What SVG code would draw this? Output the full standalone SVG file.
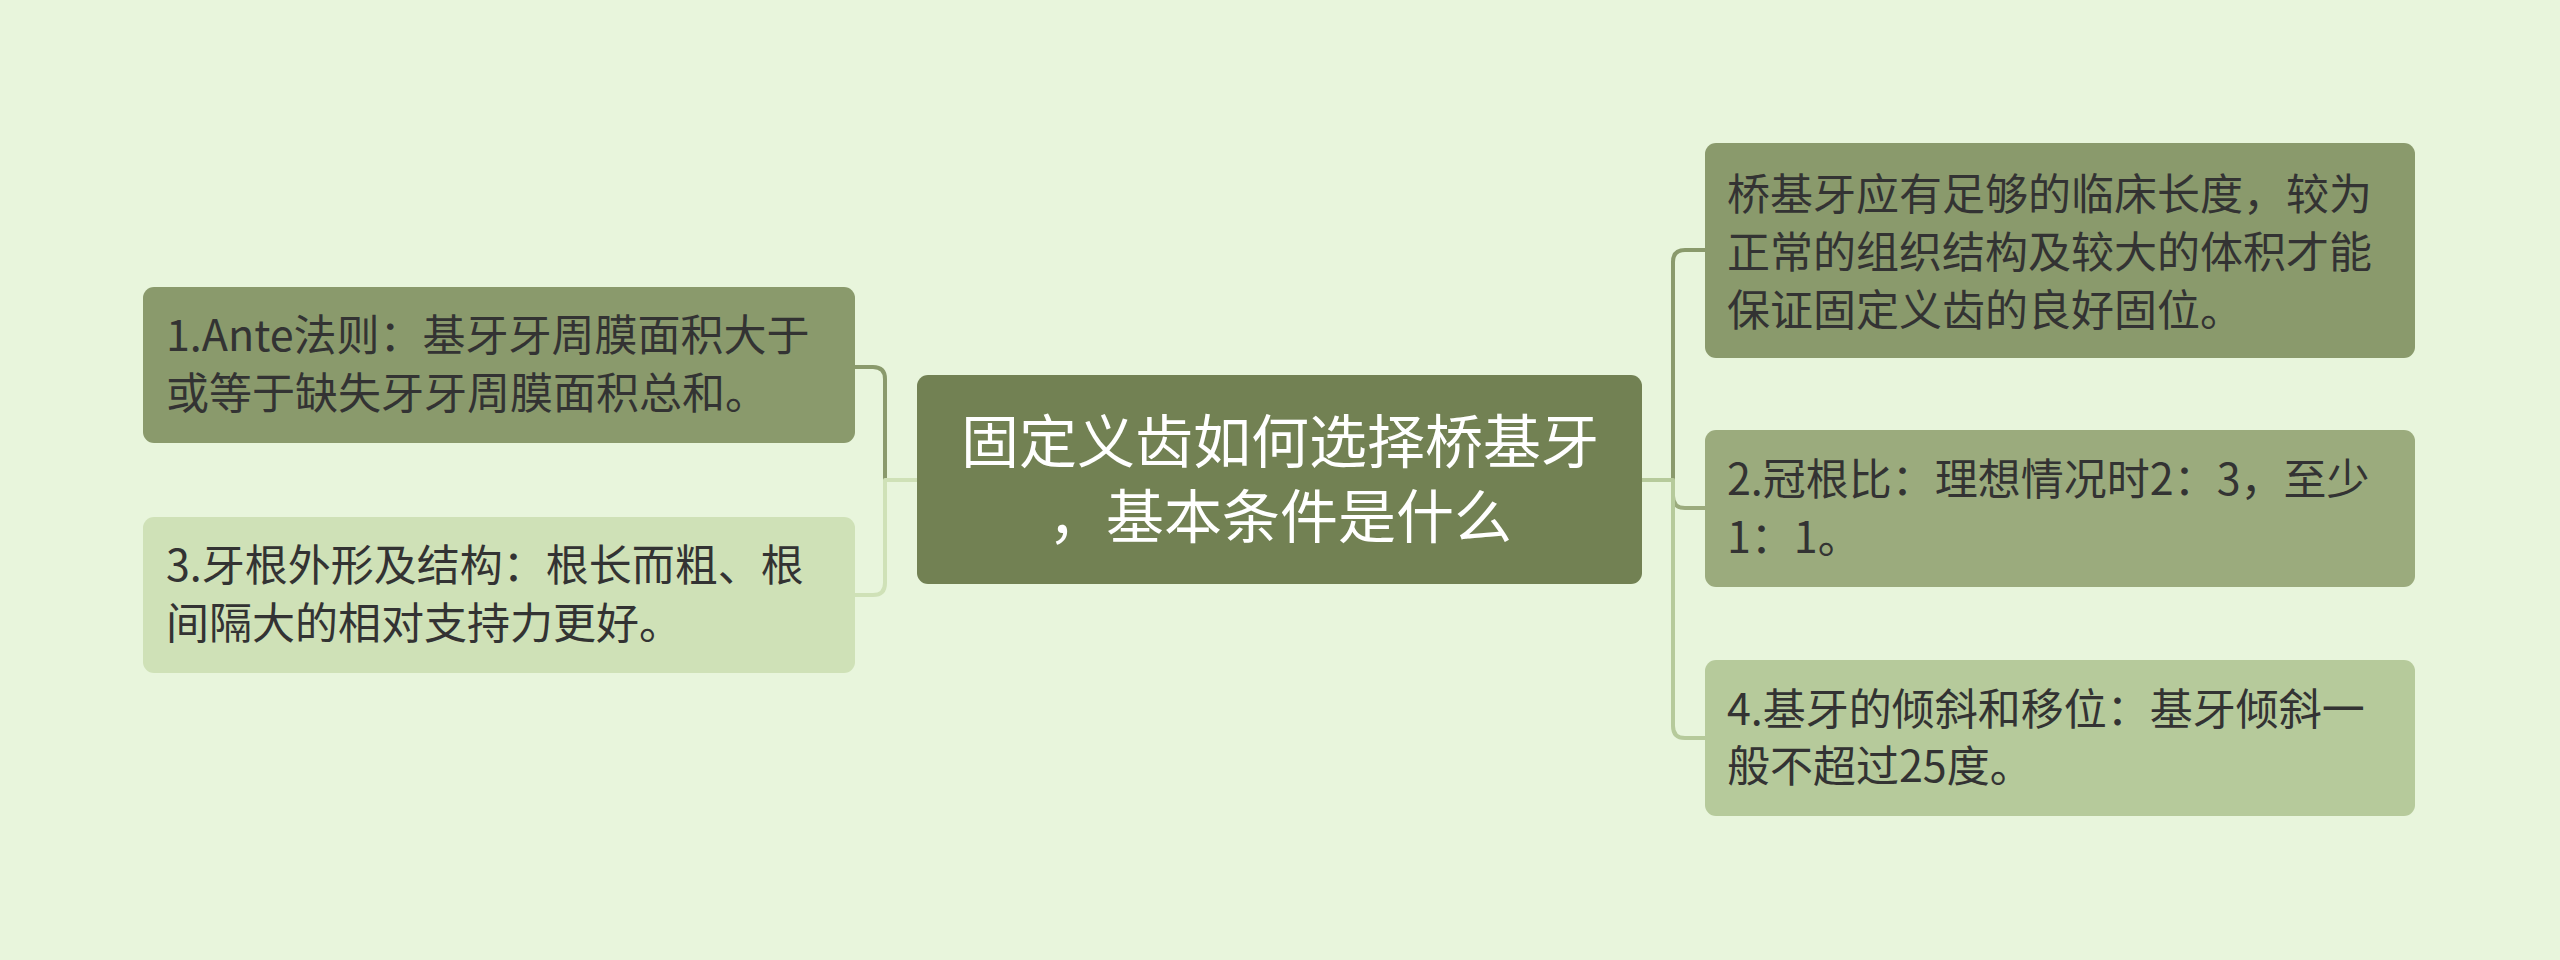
<svg xmlns="http://www.w3.org/2000/svg" width="2560" height="960" viewBox="0 0 2560 960">
<style>
.t{font-family:"Noto Sans CJK SC","Noto Sans",sans-serif;font-size:43px;fill:#333333}
.c{font-family:"Liberation Sans","Noto Sans CJK SC",sans-serif;font-size:58px;fill:#ffffff;text-anchor:middle}
.ln{fill:none;stroke-width:4;stroke-linejoin:round}
</style>
<rect x="0" y="0" width="2560" height="960" fill="#e8f5dc"/>
<g id="connectors">
<path class="ln" stroke="#8a9a6c" d="M917 480 L885 480 L885 379 Q885 367 873 367 L855 367"/>
<path class="ln" stroke="#cfe1b7" d="M917 480 L885 480 L885 583 Q885 595 873 595 L855 595"/>
<path class="ln" stroke="#8a9a6c" d="M1642 480 L1673 480 L1673 262 Q1673 250 1685 250 L1705 250"/>
<path class="ln" stroke="#9bab7d" d="M1642 480 L1673 480 L1673 496 Q1673 508 1685 508 L1705 508"/>
<path class="ln" stroke="#b6ca9b" d="M1642 480 L1673 480 L1673 726 Q1673 738 1685 738 L1705 738"/>
</g>
<g id="center">
<rect x="917" y="375" width="725" height="209" rx="11" fill="#728153"/>
<text class="c"><tspan x="1280" y="463">固定义齿如何选择桥基牙</tspan><tspan x="1280" y="538">，基本条件是什么</tspan></text>
</g>
<g id="left1">
<rect x="143" y="287" width="712" height="156" rx="11" fill="#8a9a6c"/>
<text class="t"><tspan x="166" y="351">1.Ante法则：基牙牙周膜面积大于</tspan><tspan x="166" y="409">或等于缺失牙牙周膜面积总和。</tspan></text>
</g>
<g id="left3">
<rect x="143" y="517" width="712" height="156" rx="11" fill="#cfe1b7"/>
<text class="t"><tspan x="166" y="581">3.牙根外形及结构：根长而粗、根</tspan><tspan x="166" y="639">间隔大的相对支持力更好。</tspan></text>
</g>
<g id="right1">
<rect x="1705" y="143" width="710" height="215" rx="11" fill="#8a9a6c"/>
<text class="t"><tspan x="1727" y="210">桥基牙应有足够的临床长度，较为</tspan><tspan x="1727" y="268">正常的组织结构及较大的体积才能</tspan><tspan x="1727" y="326">保证固定义齿的良好固位。</tspan></text>
</g>
<g id="right2">
<rect x="1705" y="430" width="710" height="157" rx="11" fill="#9bab7d"/>
<text class="t"><tspan x="1727" y="495">2.冠根比：理想情况时2：3，至少</tspan><tspan x="1727" y="553">1：1。</tspan></text>
</g>
<g id="right4">
<rect x="1705" y="660" width="710" height="156" rx="11" fill="#b6ca9b"/>
<text class="t"><tspan x="1727" y="725">4.基牙的倾斜和移位：基牙倾斜一</tspan><tspan x="1727" y="782">般不超过25度。</tspan></text>
</g>
</svg>
